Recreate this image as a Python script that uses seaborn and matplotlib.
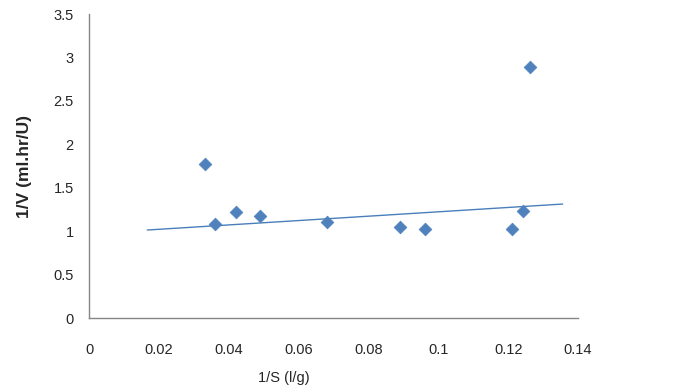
import matplotlib
matplotlib.use("Agg")
import matplotlib.pyplot as plt
import seaborn as sns
import pandas as pd

# dados
inv_s = [0.0331, 0.0362, 0.0422, 0.0491, 0.0681, 0.0891, 0.0963, 0.1212, 0.1242, 0.1263]
inv_v = [1.77, 1.08, 1.22, 1.17, 1.10, 1.05, 1.02, 1.02, 1.23, 2.89]

# linha de tendência (extremos)
trend_x = [0.0167, 0.1356]
trend_y = [1.013, 1.312]

x_ticks = [0, 0.02, 0.04, 0.06, 0.08, 0.1, 0.12, 0.14]
x_labels = ["0", "0.02", "0.04", "0.06", "0.08", "0.1", "0.12", "0.14"]
y_ticks = [0, 0.5, 1, 1.5, 2, 2.5, 3, 3.5]
y_labels = ["0", "0.5", "1", "1.5", "2", "2.5", "3", "3.5"]

df = pd.DataFrame({"x": inv_s, "y": inv_v})
df_trend = pd.DataFrame({"x": trend_x, "y": trend_y})

sns.set_style("white")
plt.rcParams['font.family'] = ['Liberation Sans', 'DejaVu Sans']

fig = plt.figure(figsize=(6.78, 3.92), dpi=100)
ax = fig.add_axes([89 / 678, 1 - 318 / 392, 489 / 678, 304 / 392])

sns.lineplot(data=df_trend, x="x", y="y", ax=ax, color="#4A7EBB", linewidth=1)
sns.scatterplot(data=df, x="x", y="y", ax=ax, marker="D", s=42,
                color="#4F81BD", edgecolor="#4F81BD", linewidth=0.5, zorder=3)

ax.set_xlim(0, 0.14)
ax.set_ylim(0, 3.5)
ax.set_xticks(x_ticks)
ax.set_xticklabels(x_labels)
ax.set_yticks(y_ticks)
ax.set_yticklabels(y_labels)
ax.tick_params(axis="x", length=0, pad=18, labelsize=10.5)
ax.tick_params(axis="y", length=0, pad=11, labelsize=10.5)

for s in ["top", "right"]:
    ax.spines[s].set_visible(False)
for s in ["left", "bottom"]:
    ax.spines[s].set_color("#868686")
    ax.spines[s].set_linewidth(1)

ax.set_xlabel("1/S (l/g)", fontsize=10.5)
ax.set_ylabel("1/V (ml.hr/U)", fontsize=12.5, fontweight="bold")
ax.xaxis.set_label_coords(0.399, -0.175)
ax.yaxis.set_label_coords(-0.117, 0.5)

fig.savefig("out.png", dpi=100)
